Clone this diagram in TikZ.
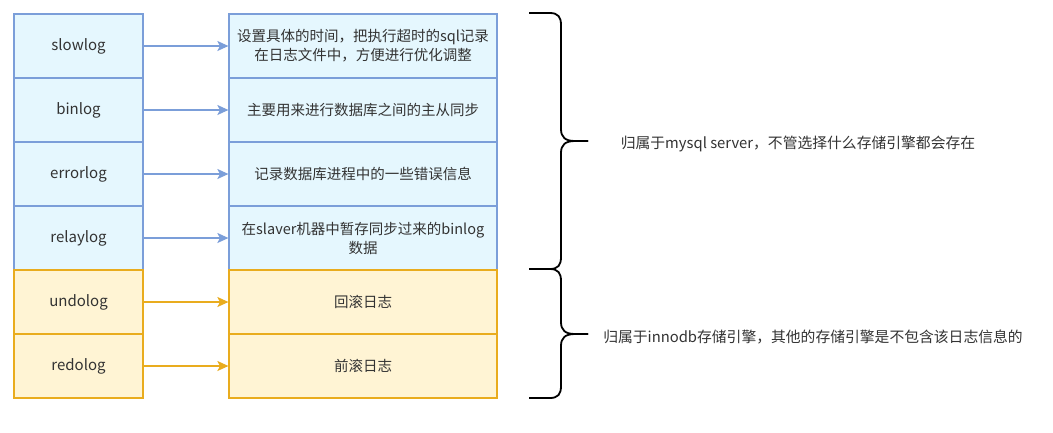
\documentclass[tikz,border=0pt]{standalone}
\usepackage{fontspec}
\setmainfont{Noto Sans CJK SC}
\usetikzlibrary{arrows.meta}
\definecolor{blueline}{HTML}{7B9ED9}
\definecolor{bluefill}{HTML}{E5F7FE}
\definecolor{yellowline}{HTML}{E9AC1E}
\definecolor{yellowfill}{HTML}{FFF4D4}
\definecolor{textgray}{HTML}{333333}
\begin{document}
\begin{tikzpicture}[
        x=1pt, y=-1pt,
        log_a/.style={draw=blueline, fill=bluefill, line width=1.2pt, minimum width=129pt, minimum height=64pt, inner sep=0pt, text=textgray, font=\fontsize{15}{19}\selectfont},
        log_b/.style={draw=yellowline, fill=yellowfill, line width=1.2pt, minimum width=129pt, minimum height=64pt, inner sep=0pt, text=textgray, font=\fontsize{15}{19}\selectfont},
        desc_a/.style={log_a, minimum width=268pt, align=center, font=\fontsize{14.5}{19}\selectfont},
        desc_b/.style={log_b, minimum width=268pt, align=center, font=\fontsize{14.5}{19}\selectfont},
        arrow_a/.style={draw=blueline, line width=1.2pt, -{Stealth[length=11pt, width=10pt, inset=2.5pt]}},
        arrow_b/.style={draw=yellowline, line width=1.2pt, -{Stealth[length=11pt, width=10pt, inset=2.5pt]}},
        brace line/.style={draw, line width=1.8pt, black},
        note/.style={text=textgray, font=\fontsize{14.8}{19}\selectfont}
    ]
    \useasboundingbox[fill=white] (0,0) rectangle (1053,432);
	\node[log_a] (l_0) at (78.5,46) {slowlog};
	\node[desc_a] (d_0) at (363,46) {设置具体的时间，把执行超时的sql记录\\在日志文件中，方便进行优化调整};
	\node[log_a] (l_1) at (78.5,110) {binlog};
	\node[desc_a] (d_1) at (363,110) {主要用来进行数据库之间的主从同步};
	\node[log_a] (l_2) at (78.5,174) {errorlog};
	\node[desc_a] (d_2) at (363,174) {记录数据库进程中的一些错误信息};
	\node[log_a] (l_3) at (78.5,238) {relaylog};
	\node[desc_a] (d_3) at (363,238) {在slaver机器中暂存同步过来的binlog\\数据};
	\node[log_b] (l_4) at (78.5,302) {undolog};
	\node[desc_b] (d_4) at (363,302) {回滚日志};
	\node[log_b] (l_5) at (78.5,366) {redolog};
	\node[desc_b] (d_5) at (363,366) {前滚日志};
	\draw[arrow_a] (l_0) -- (d_0);
	\draw[arrow_a] (l_1) -- (d_1);
	\draw[arrow_a] (l_2) -- (d_2);
	\draw[arrow_a] (l_3) -- (d_3);
	\draw[arrow_b] (l_4) -- (d_4);
	\draw[arrow_b] (l_5) -- (d_5);
	\draw[brace line] (529,13) -- (550,13) .. controls (558,13) and (561,17) .. (561,25) -- (561,129) .. controls (561,137) and (565,141) .. (575,141) -- (588,141);
	\draw[brace line] (588,141) -- (575,141) .. controls (565,141) and (561,145) .. (561,153) -- (561,257) .. controls (561,265) and (558,269) .. (550,269) -- (529,269);
	\draw[brace line] (529,269) -- (550,269) .. controls (558,269) and (561,273) .. (561,281) -- (561,322) .. controls (561,330) and (565,334) .. (575,334) -- (588,334);
	\draw[brace line] (588,334) -- (575,334) .. controls (565,334) and (561,338) .. (561,346) -- (561,386) .. controls (561,394) and (558,398) .. (550,398) -- (529,398);
	\node[note] (n_0) at (798,144) {归属于mysql server，不管选择什么存储引擎都会存在};
	\node[note] (n_1) at (813,337) {归属于innodb存储引擎，其他的存储引擎是不包含该日志信息的};
    \end{tikzpicture}
\end{document}
